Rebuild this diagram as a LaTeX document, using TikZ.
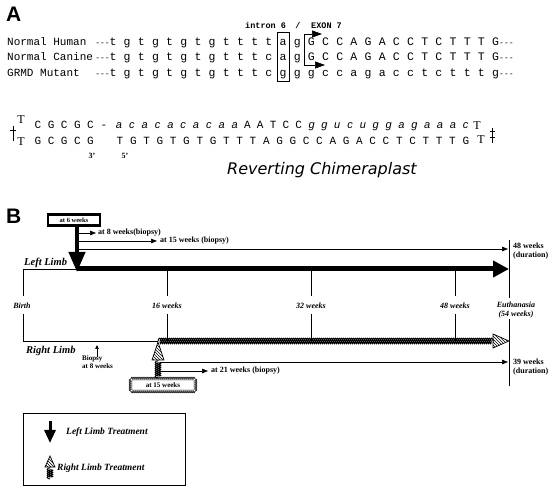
\documentclass[tikz,border=0pt]{standalone}
\usepackage{fontspec}
\setmainfont{Liberation Serif}
\newfontfamily\monofont{Liberation Mono}
\newfontfamily\sansfont{Liberation Sans}
\newfontfamily\dvfont{DejaVu Sans}
\usetikzlibrary{arrows.meta,decorations.pathmorphing,patterns}
\begin{document}
\begin{tikzpicture}[x=1pt,y=-1pt,
  seq/.style={inner sep=0pt,anchor=base,font=\monofont\fontsize{11.5}{12}\selectfont},
  rowlab/.style={inner sep=0pt,anchor=base west,font=\monofont\fontsize{11}{12}\selectfont},
  dashes/.style={inner sep=0pt,font=\monofont\fontsize{8}{8}\selectfont},
  hdr/.style={inner sep=0pt,font=\monofont\bfseries\fontsize{8.5}{9}\selectfont},
  cup/.style={inner sep=0pt,anchor=base,font=\monofont\fontsize{11}{12}\selectfont},
  clow/.style={inner sep=0pt,anchor=base,font=\sansfont\itshape\fontsize{11}{12}\selectfont},
  cT/.style={inner sep=0pt,anchor=base,font=\fontsize{12}{12}\selectfont},
  lw/.style={line width=0.7pt},
  arr/.style={-{Triangle[length=6pt 0 0,width=4.5pt 0 0]}},
  ann/.style={inner sep=0pt,anchor=west,font=\bfseries\fontsize{8}{9}\selectfont},
  ticklab/.style={inner sep=0pt,align=center,font=\bfseries\itshape\fontsize{8}{9}\selectfont},
  limb/.style={inner sep=0pt,anchor=base west,font=\bfseries\itshape\fontsize{10.5}{11}\selectfont},
  leg/.style={inner sep=0pt,anchor=west,font=\bfseries\itshape\fontsize{9.5}{10}\selectfont},
  rope/.style={decorate,decoration={coil,aspect=0.4,segment length=2pt,amplitude=2.8pt},line width=0.9pt},
  ropebox/.style={decorate,decoration={coil,aspect=0.4,segment length=2pt,amplitude=1.6pt},line width=0.7pt},
  hatchfill/.style={pattern=north west lines,draw,line width=0.7pt},
]
\useasboundingbox (0,0) rectangle (560,494);
\fill[white] (0,0) rectangle (560,494);
% ---------------- Part A
\node[inner sep=0pt,anchor=base west,font=\sansfont\bfseries\fontsize{21}{21}\selectfont] (A) at (6,22) {A};
\node[hdr,anchor=base west] (intron) at (245,29) {intron 6};
\node[hdr,anchor=base] (slash) at (298,29) {/};
\node[hdr,anchor=base west] (exon) at (311,29) {EXON 7};

\node[rowlab] (lab1) at (7,45.5) {Normal Human};
\node[rowlab] (lab2) at (7,61) {Normal Canine};
\node[rowlab] (lab3) at (7,76.5) {GRMD Mutant};

\node[dashes,anchor=base east] (d1a) at (110,45.5) {-{}-{}-};
\node[dashes,anchor=base east] (d2a) at (110,61) {-{}-{}-};
\node[dashes,anchor=base east] (d3a) at (110,76.5) {-{}-{}-};
\foreach \c [count=\i from 0] in {t,g,t,g,t,g,t,g,t,t,t,t,a,g,G,C,C,A,G,A,C,C,T,C,T,T,T,G}
  \node[seq] (h\i) at (113+14.17*\i,45.5) {\c};
\foreach \c [count=\i from 0] in {t,g,t,g,t,g,t,g,t,t,t,c,a,g,G,C,C,A,G,A,C,C,T,C,T,T,T,G}
  \node[seq] (k\i) at (113+14.17*\i,61) {\c};
\foreach \c [count=\i from 0] in {t,g,t,g,t,g,t,g,t,t,t,c,g,g,g,c,c,a,g,a,c,c,t,c,t,t,t,g}
  \node[seq] (m\i) at (113+14.17*\i,76.5) {\c};
\node[dashes,anchor=base west] (d1b) at (499,45.5) {-{}-{}-};
\node[dashes,anchor=base west] (d2b) at (499,61) {-{}-{}-};
\node[dashes,anchor=base west] (d3b) at (499,76.5) {-{}-{}-};

\draw[lw] (277,32) rectangle (289,81);
\coordinate (bt) at (304,34);
\coordinate (bb) at (304,65);
\draw[lw] (bt) -- (bb);
\draw[lw,-{Triangle[length=10pt 0 0,width=7pt 0 0]}] (bt) -- (322,34);
\draw[lw,-{Triangle[length=10pt 0 0,width=7pt 0 0]}] (bb) -- (325,65);

% chimeraplast
\node[cT] (tl) at (21,124) {T};
\foreach \c [count=\i from 0] in {C,G,C,G,C}
  \node[cup] (tc\i) at (38+13.1*\i,129) {\c};
\node[cup] (tdash) at (104,129) {-};
\foreach \c [count=\i from 0] in {a,c,a,c,a,c,a,c,a,a}
  \node[clow] (tt\i) at (119+12.84*\i,129) {\c};
\foreach \c [count=\i from 10] in {A,A,T,C,C}
  \node[cup] (tt\i) at (119+12.84*\i,129) {\c};
\foreach \c [count=\i from 15] in {g,g,u,c,u,g,g,a,g,a,a,a,c}
  \node[clow] (tt\i) at (119+12.84*\i,129) {\c};
\node[cT] (tr) at (477,130) {T};

\node[cT] (bl) at (21,146) {T};
\foreach \c [count=\i from 0] in {G,C,G,C,G}
  \node[cup] (bc\i) at (38+13.1*\i,145) {\c};
\foreach \c [count=\i from 0] in {T,G,T,G,T,G,T,G,T,T,T,A,G,G,C,C,A,G,A,C,C,T,C,T,T,T,G}
  \node[cup] (bb\i) at (120+13.3*\i,145) {\c};
\node[cT] (br) at (481,143.5) {T};

\draw[lw] (13,126) -- (13,141);
\draw[lw] (10,130) -- (16,130);
\draw[lw] (492,128) -- (492,143);
\draw[lw] (489.5,131) -- (494.5,131);
\draw[lw] (489.5,137) -- (494.5,137);

\node[inner sep=0pt,anchor=base,font=\bfseries\fontsize{8}{8}\selectfont] (p3) at (92,159) {3'};
\node[inner sep=0pt,anchor=base,font=\bfseries\fontsize{8}{8}\selectfont] (p5) at (125,159) {5'};
\node[inner sep=0pt,anchor=base west,font=\dvfont\itshape\fontsize{16}{16}\selectfont] (rev) at (227,175) {Reverting Chimeraplast};

% ---------------- Part B
\node[inner sep=0pt,anchor=base west,font=\sansfont\bfseries\fontsize{21}{21}\selectfont] (B) at (6,224) {B};

% left limb
\node[draw,line width=2.5pt,minimum width=52,minimum height=11,inner sep=0pt,
      font=\bfseries\fontsize{6.5}{7}\selectfont] (b6) at (74,220) {at 6 weeks\hspace{12pt}};
\coordinate (l8) at (77,233);
\coordinate (l15) at (77,241);
\coordinate (l48) at (77,249);
\draw[line width=4pt,-{Triangle[length=20pt 0 0,width=16pt 0 0]}] (77,226) -- (77,272);
\draw[lw,arr] (l8) -- (96,233);
\node[ann] (t8) at (98,233) {at 8 weeks(biopsy)};
\draw[lw,arr] (l15) -- (157,241);
\node[ann] (t15) at (160,241) {at 15 weeks (biopsy)};
\draw[lw,arr] (l48) -- (508,249);
\node[ann,align=left] (t48) at (513,251) {48 weeks\\(duration)};

\node[limb] (ll) at (24,266) {Left Limb};
\draw[lw] (23,269) -- (77,269);
\draw[line width=5pt,-{Triangle[length=16pt 0 0,width=16pt 0 0]}] (77,269) -- (509,269);

% ticks
\foreach \x in {23,167,311,455} {
  \draw[lw] (\x,269) -- (\x,296);
  \draw[lw] (\x,314) -- (\x,341);
}
\draw[lw] (509,240) -- (509,298);
\draw[lw] (509,319) -- (509,386);
\node[ticklab] (birth) at (22,306) {Birth};
\node[ticklab] (w16) at (167,306) {16 weeks};
\node[ticklab] (w32) at (311,306) {32 weeks};
\node[ticklab] (w48) at (455,306) {48 weeks};
\node[ticklab] (euth) at (516,310) {Euthanasia\\(54 weeks)};

% right limb
\draw[lw] (23,341) -- (158,341);
\draw[rope] (158,341) -- (494,341);
\draw[hatchfill] (493,334) -- (509,341) -- (493,348) -- cycle;
\node[limb] (rl) at (26,354) {Right Limb};
\draw[lw,-{Triangle[length=4pt 0 0,width=3.5pt 0 0]}] (97,357) -- (97,345);
\node[ann,align=left,anchor=north west,font=\bfseries\fontsize{7}{8}\selectfont] (bio8) at (82,355) {Biopsy\\at 8 weeks};

\draw[rope] (158,378) -- (158,360);
\draw[hatchfill] (152,360) -- (158,342) -- (164,360) -- cycle;
\node[minimum width=64,minimum height=12,inner sep=0pt,font=\bfseries\fontsize{7}{7}\selectfont] (b15) at (163,385) {at 15 weeks};
\draw[ropebox] (b15.north west) -- (b15.north east);
\draw[ropebox] (b15.north east) -- (b15.south east);
\draw[ropebox] (b15.south east) -- (b15.south west);
\draw[ropebox] (b15.south west) -- (b15.north west);
\coordinate (r39) at (160,362);
\coordinate (r21) at (160,371);
\draw[lw,arr] (r39) -- (508,362);
\node[ann,align=left] (t39) at (513,367) {39 weeks\\(duration)};
\draw[lw,arr] (r21) -- (208,371);
\node[ann] (t21) at (211,371) {at 21 weeks (biopsy)};

% legend
\node[draw,line width=0.9pt,minimum width=162,minimum height=72,inner sep=0pt] (legend) at (104,449) {};
\draw[line width=3pt,-{Triangle[length=13pt 0 0,width=11pt 0 0]}] (50,421) -- (50,443);
\node[leg] (lgl) at (66,432) {Left Limb Treatment};
\draw[rope] (50,479) -- (50,467);
\draw[hatchfill] (45,467) -- (50,456) -- (55,467) -- cycle;
\node[leg] (lgr) at (57,468) {Right Limb Treatment};
\end{tikzpicture}
\end{document}
